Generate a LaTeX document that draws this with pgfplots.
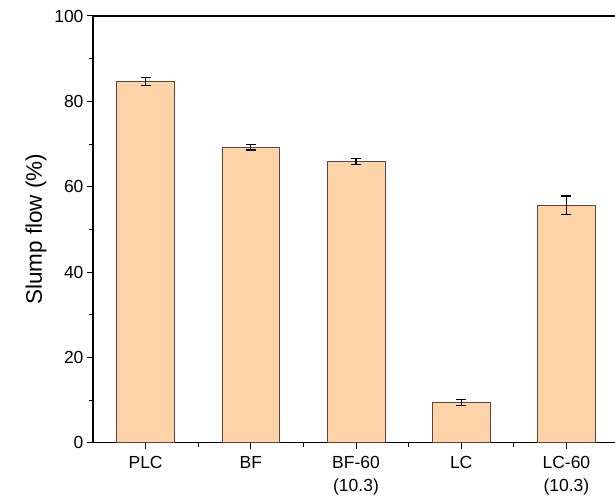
\documentclass[border=0pt]{standalone}
\usepackage{pgfplots}
\pgfplotsset{compat=1.18}
\usepackage{fontspec}
\setmainfont{Liberation Sans}
\definecolor{barfill}{RGB}{253,211,167}
\definecolor{baredge}{RGB}{90,70,60}
\begin{document}
\begin{tikzpicture}
\path[use as bounding box, clip] (-93bp,-58.3bp) rectangle (522bp,442.7bp);
\begin{axis}[
  at={(0,0)}, anchor=south west,
  scale only axis,
  width=526bp, height=426.7bp,
  xmin=-0.5, xmax=4.5,
  ymin=0, ymax=100,
  xtick={0,1,2,3,4},
  xticklabels={PLC,BF,{BF-60\\(10.3)},LC,{LC-60\\(10.3)}},
  xticklabel style={align=center, font=\fontsize{17.5bp}{22.6bp}\selectfont, yshift=-4bp},
  minor xtick={0.5,1.5,2.5,3.5},
  ytick={0,20,40,60,80,100},
  minor ytick={10,30,50,70,90},
  yticklabel style={font=\fontsize{17.5bp}{20bp}\selectfont},
  /pgf/number format/assume math mode=true,
  tick align=outside,
  xtick pos=bottom, ytick pos=left,
  major tick length=6bp, minor tick length=4bp,
  tick style={black, line width=1pt},
  axis line style={black, line width=1.2pt},
  ylabel={Slump flow (\%)},
  ylabel style={font=\fontsize{22.5bp}{26bp}\selectfont},
  ylabel shift=1bp,
]
\addplot[ybar, bar width=0.55, fill=barfill, draw=baredge, line width=0.6pt,
  error bars/.cd, y dir=both, y explicit,
  error bar style={black, line width=1.2pt},
  error mark options={rotate=90, mark size=5bp, line width=1.2pt, black}]
  coordinates {
    (0,84.6) +- (0,0.9)
    (1,69.2) +- (0,0.6)
    (2,65.9) +- (0,0.75)
    (3,9.5)  +- (0,0.7)
    (4,55.6) +- (0,2.2)
  };
\end{axis}
\end{tikzpicture}
\end{document}
